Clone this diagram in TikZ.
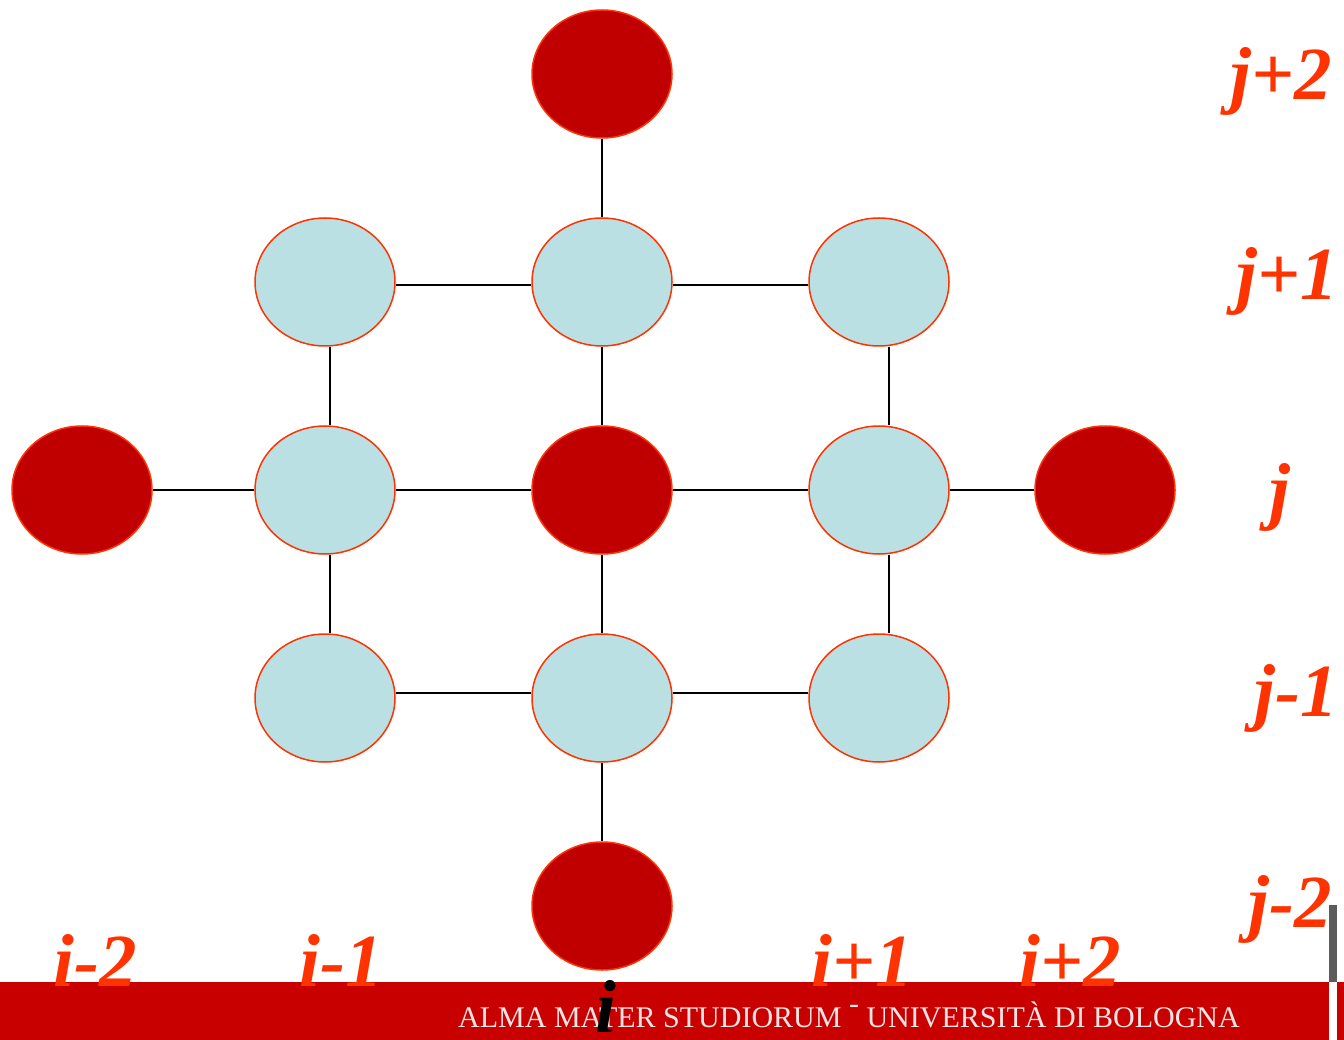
\documentclass[tikz,border=0pt]{standalone}
\usepackage{fontspec}
\setmainfont{Liberation Serif}
\usetikzlibrary{shapes.geometric}
\definecolor{deepred}{HTML}{C00000}
\definecolor{barred}{HTML}{C80000}
\definecolor{paleblue}{HTML}{BAE0E4}
\definecolor{rim}{HTML}{FF3300}
\definecolor{idxcol}{HTML}{FF3300}
\definecolor{barfg}{HTML}{F6E4E4}
\tikzset{
  cell/.style={ellipse, draw=rim, line width=1.5pt, minimum width=140pt, minimum height=128pt, inner sep=0pt},
  hot/.style={cell, fill=deepred},
  cool/.style={cell, fill=paleblue},
  link/.style={draw=black, line width=1.6pt},
  idx/.style={text=idxcol, font=\fontsize{75}{75}\selectfont\bfseries\itshape, inner sep=0pt},
}
\begin{document}
\begin{tikzpicture}[x=1pt,y=-1pt]
\useasboundingbox (0,0) rectangle (1344,1040);
% footer band
\fill[barred] (0,982) rectangle (1329,1040);
\fill[barred] (1337,982) rectangle (1344,1040);
\fill[black!64] (1329,905) rectangle (1337,982);
\node[text=barfg, font=\fontsize{30}{30}\selectfont, anchor=base west, inner sep=0pt] (footer) at (458,1027) {ALMA MATER STUDIORUM \raisebox{0.45em}{-} UNIVERSITÀ DI BOLOGNA};
% stencil cells
\node[hot]  (n0)  at (602,74)  {};
\node[cool] (a1)  at (325,282) {};
\node[cool] (a2)  at (602,282) {};
\node[cool] (a3)  at (879,282) {};
\node[hot]  (b0)  at (82,490)  {};
\node[cool] (b1)  at (325,490) {};
\node[hot]  (b2)  at (602,490) {};
\node[cool] (b3)  at (879,490) {};
\node[hot]  (b4)  at (1105,490) {};
\node[cool] (c1)  at (325,698) {};
\node[cool] (c2)  at (602,698) {};
\node[cool] (c3)  at (879,698) {};
\node[hot]  (s0)  at (602,906) {};
% connections
\draw[link] (n0) -- (a2);
\draw[link] ([yshift=-3pt]a1.east) -- ([yshift=-3pt]a2.west);
\draw[link] ([yshift=-3pt]a2.east) -- ([yshift=-3pt]a3.west);
\draw[link] ([xshift=5pt]a1.south) -- ([xshift=5pt]b1.north);
\draw[link] (a2) -- (b2);
\draw[link] ([xshift=10pt]a3.south) -- ([xshift=10pt]b3.north);
\draw[link] (b0) -- (b1);
\draw[link] (b1) -- (b2);
\draw[link] (b2) -- (b3);
\draw[link] (b3) -- (b4);
\draw[link] ([xshift=5pt]b1.south) -- ([xshift=5pt]c1.north);
\draw[link] (b2) -- (c2);
\draw[link] ([xshift=10pt]b3.south) -- ([xshift=10pt]c3.north);
\draw[link] ([yshift=5pt]c1.east) -- ([yshift=5pt]c2.west);
\draw[link] ([yshift=5pt]c2.east) -- ([yshift=5pt]c3.west);
\draw[link] (c2) -- (s0);
% row indices
\node[idx, anchor=base] (jp2) at (1281,100) {j+2};
\node[idx, anchor=base] (jp1) at (1287,300) {j+1};
\node[idx, anchor=base] (j0)  at (1280,515) {j};
\node[idx, anchor=base] (jm1) at (1296,716) {j-1};
\node[idx, anchor=base] (jm2) at (1290,927) {j-2};
% column indices
\node[idx, anchor=base] (im2) at (95,986) {i-2};
\node[idx, anchor=base] (im1) at (341,986) {i-1};
\node[idx, anchor=base, text=black] (i0) at (606,1032) {i};
\node[idx, anchor=base] (ip1) at (862,986) {i+1};
\node[idx, anchor=base] (ip2) at (1070,986) {i+2};
\end{tikzpicture}
\end{document}
